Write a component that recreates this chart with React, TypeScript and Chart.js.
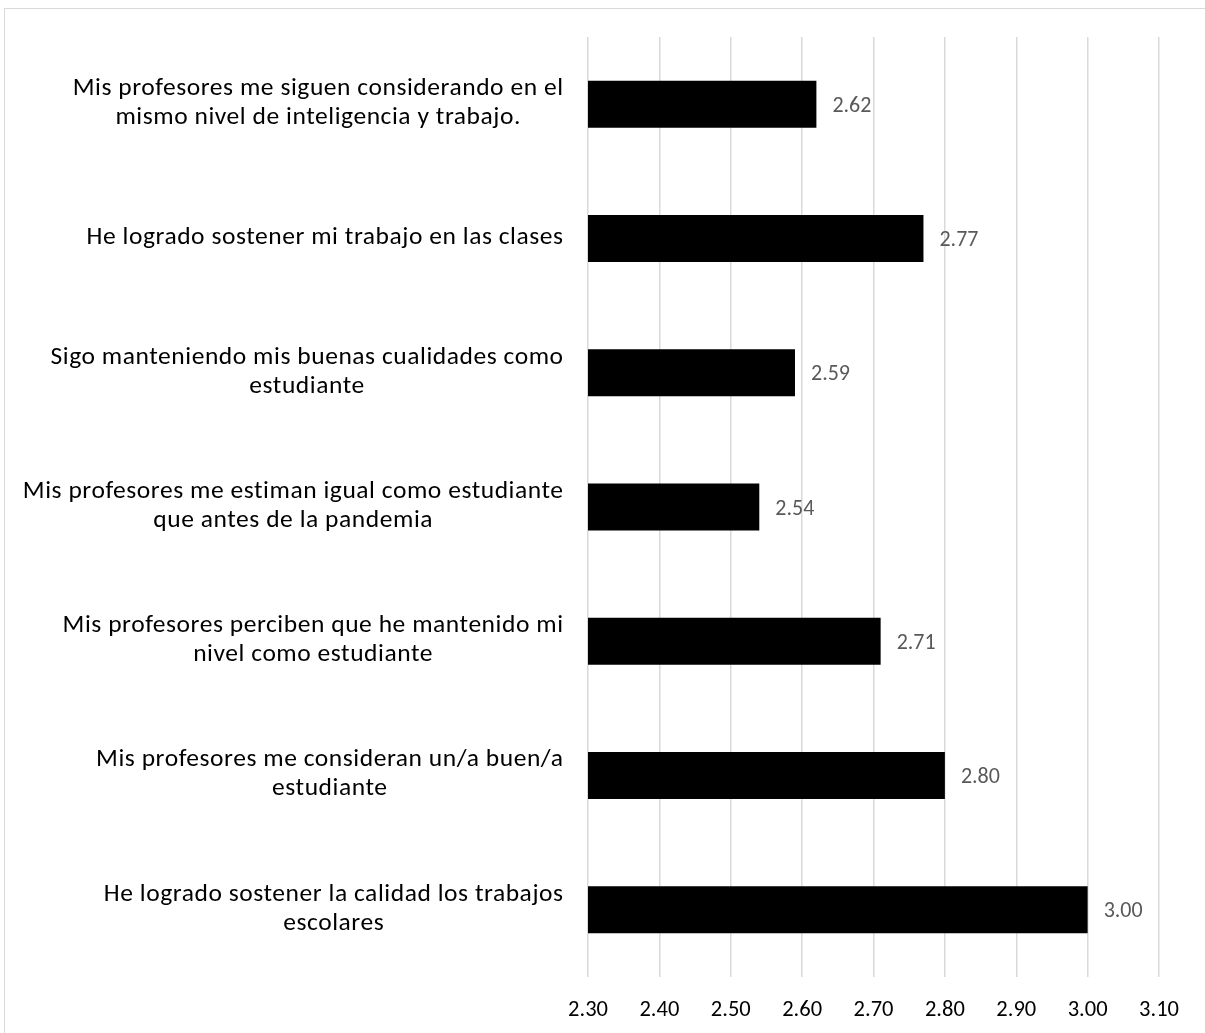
import React, { useEffect, useRef } from "react";
import { Chart, registerables } from "chart.js";

Chart.register(...registerables);

// ---- Data ----
const categories: string[][] = [
  ["Mis profesores me siguen considerando en el", "mismo nivel de inteligencia y trabajo."],
  ["He logrado sostener mi trabajo en las clases"],
  ["Sigo manteniendo mis buenas cualidades como", "estudiante"],
  ["Mis profesores me estiman igual como estudiante", "que antes de la pandemia"],
  ["Mis profesores perciben que he mantenido mi", "nivel como estudiante"],
  ["Mis profesores me consideran un/a buen/a", "estudiante"],
  ["He logrado sostener la calidad los trabajos", "escolares"],
];
const values: number[] = [2.62, 2.77, 2.59, 2.54, 2.71, 2.8, 3.0];
const xMin = 2.3;
const xMax = 3.1;
const xStep = 0.1;

// ---- Styles ----
const FONT = "Carlito, Calibri, Lato, 'Liberation Sans', sans-serif";
const CAT_SIZE = 25.5;
const CAT_SPACING = 0.55;
const CAT_LINE_H = 29;
const TICK_SIZE = 22.5;
const VALUE_SIZE = 22;

const labelsPlugin = {
  id: "customLabels",
  afterDraw(chart: any) {
    const { ctx, chartArea } = chart;
    const yScale = chart.scales.y;
    const xScale = chart.scales.x;
    ctx.save();
    // category labels: block right-aligned, lines centered within block
    ctx.font = `${CAT_SIZE}px ${FONT}`;
    ctx.fillStyle = "#000000";
    ctx.textBaseline = "middle";
    ctx.textAlign = "left";
    (ctx as any).letterSpacing = `${CAT_SPACING}px`;
    const rightEdge = chartArea.left - 25;
    categories.forEach((lines, i) => {
      const cy = yScale.getPixelForTick(i);
      const widths = lines.map((l) => ctx.measureText(l).width - CAT_SPACING);
      const w = Math.max(...widths);
      const blockLeft = rightEdge - w;
      const top = cy - ((lines.length - 1) * CAT_LINE_H) / 2 - 1;
      lines.forEach((l, j) => {
        const x = blockLeft + (w - widths[j]) / 2;
        ctx.fillText(l, x, top + j * CAT_LINE_H);
      });
    });
    (ctx as any).letterSpacing = "0px";
    // value labels
    ctx.font = `${VALUE_SIZE}px ${FONT}`;
    ctx.fillStyle = "#595959";
    ctx.textAlign = "left";
    const meta = chart.getDatasetMeta(0);
    meta.data.forEach((bar: any, i: number) => {
      const x = xScale.getPixelForValue(values[i]) + 16;
      ctx.fillText(values[i].toFixed(2), x, bar.y + 2);
    });
    ctx.restore();
  },
};

export default function App() {
  const canvasRef = useRef<HTMLCanvasElement | null>(null);

  useEffect(() => {
    const canvas = canvasRef.current;
    if (!canvas) return;
    const chart = new Chart(canvas, {
      type: "bar",
      data: {
        labels: categories,
        datasets: [
          {
            data: values,
            backgroundColor: "#000000",
            borderWidth: 0,
            categoryPercentage: 1,
            barPercentage: 0.35,
          },
        ],
      },
      options: {
        indexAxis: "y",
        responsive: false,
        animation: false,
        devicePixelRatio: 1,
        layout: { padding: { left: 588, top: 37, right: 46, bottom: 0 } },
        plugins: {
          legend: { display: false },
          tooltip: { enabled: false },
        },
        scales: {
          y: {
            type: "category",
            display: false,
            ticks: { display: false },
            grid: { display: false },
            border: { display: false },
          },
          x: {
            type: "linear",
            min: xMin,
            max: xMax,
            ticks: {
              stepSize: xStep,
              color: "#000000",
              font: { family: FONT, size: TICK_SIZE },
              padding: 20,
              callback: (v: any) => Number(v).toFixed(2),
            },
            grid: { color: "#d9d9d9", lineWidth: 1.5, drawTicks: false },
            border: { display: false },
            afterFit: (scale: any) => {
              scale.height = 56;
            },
          },
        },
      },
      plugins: [labelsPlugin],
    });
    return () => chart.destroy();
  }, []);

  return (
    <div
      style={{
        position: "fixed",
        left: 0,
        top: 0,
        width: 1205,
        height: 1033,
        overflow: "hidden",
        background: "#ffffff",
      }}
    >
      <div
        style={{
          position: "absolute",
          left: 4,
          top: 8,
          width: 1400,
          height: 1200,
          border: "1px solid #d9d9d9",
          boxSizing: "border-box",
        }}
      />
      <canvas
        ref={canvasRef}
        width={1205}
        height={1033}
        style={{ position: "absolute", left: 0, top: 0, width: 1205, height: 1033, display: "block" }}
      />
    </div>
  );
}
